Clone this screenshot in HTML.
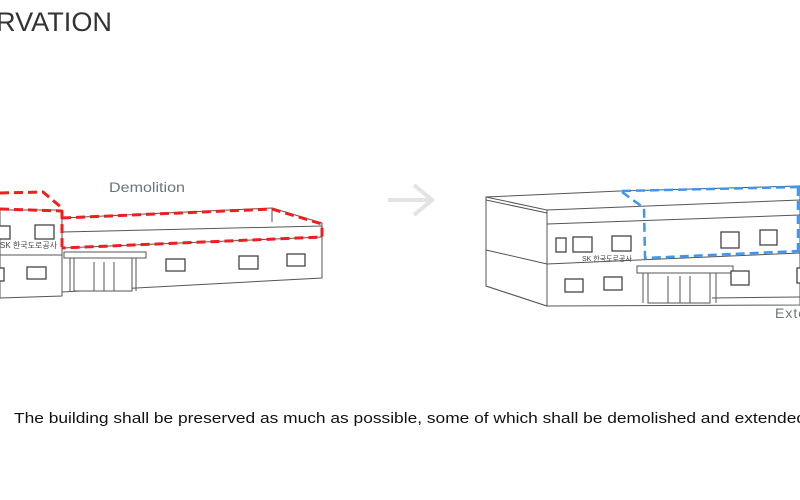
<!DOCTYPE html>
<html><head><meta charset="utf-8"><style>
body{margin:0;background:#fff;}
svg{display:block}
text{font-family:"Liberation Sans","Noto Sans CJK KR",sans-serif;}
</style></head><body>
<svg width="800" height="500" viewBox="0 0 800 500" xmlns="http://www.w3.org/2000/svg">
<text x="-4" y="31" font-size="27" fill="#333" textLength="116" lengthAdjust="spacingAndGlyphs">RVATION</text>
<text x="109" y="192" font-size="14" fill="#6b757c" textLength="76" lengthAdjust="spacingAndGlyphs">Demolition</text>
<text x="775" y="318" font-size="14" fill="#6b757c" letter-spacing="1">Exte</text>
<text x="14" y="423" font-size="15" fill="#111" textLength="792" lengthAdjust="spacingAndGlyphs">The building shall be preserved as much as possible, some of which shall be demolished and extended</text>
<!-- arrow -->
<g stroke="#e3e3e3" stroke-width="4" fill="none"><line x1="388" y1="200" x2="432" y2="200"/><polyline points="414,185 432,200 414,215"/></g>

<!-- LEFT BUILDING -->
<g stroke="#555" stroke-width="1" fill="#fff">
<polygon points="0,210 62,210 62,296 0,298"/>
<line x1="0" y1="255" x2="62" y2="255"/>
<polygon points="62,218 272,208 322,223 322,278 62,292"/>
<line x1="62" y1="232" x2="322" y2="226"/>
<line x1="62" y1="248" x2="322" y2="237"/>
<line x1="272" y1="208" x2="272" y2="222"/>
<rect x="64" y="252" width="82" height="6"/>
<rect x="74" y="258" width="58" height="33"/>
<line x1="94" y1="262" x2="94" y2="291"/><line x1="104" y1="262" x2="104" y2="291"/><line x1="114" y1="262" x2="114" y2="291"/>
<line x1="70" y1="258" x2="70" y2="291"/><line x1="136" y1="258" x2="136" y2="291"/>
</g>
<g fill="#fff" stroke="#444" stroke-width="1.3">
<rect x="-2" y="226" width="12" height="13"/><rect x="35" y="225" width="19" height="14"/>
<rect x="-2" y="268" width="6" height="13"/><rect x="27" y="267" width="19" height="12"/>
<rect x="166" y="259" width="19" height="12"/><rect x="239" y="256" width="19" height="13"/><rect x="287" y="254" width="18" height="12"/>
</g>
<text x="0" y="248" font-size="8" fill="#444">SK 한국도로공사</text>
<g stroke="#f01e1e" stroke-width="3" fill="none" stroke-dasharray="9,5">
<polyline points="0,193 43,192 62,208 62,247"/>
<line x1="0" y1="209" x2="62" y2="211"/>
<polyline points="62,218 272,209 322,224 322,237 62,248"/>
</g>

<!-- RIGHT BUILDING -->
<g stroke="#555" stroke-width="1" fill="#fff">
<polygon points="486,197 620,191 800,186 800,305 547,306 486,286"/>
<polygon points="486,197 547,210 547,306 486,286"/>
<line x1="547" y1="210" x2="800" y2="200"/>
<line x1="486" y1="200" x2="547" y2="213"/>
<line x1="547" y1="224" x2="800" y2="215"/>
<line x1="486" y1="250" x2="547" y2="264"/>
<line x1="547" y1="264" x2="800" y2="253"/>
<line x1="712" y1="298" x2="800" y2="297"/>
<rect x="637" y="266" width="96" height="7"/>
<rect x="648" y="273" width="62" height="30"/>
<line x1="668" y1="276" x2="668" y2="303"/><line x1="680" y1="276" x2="680" y2="303"/><line x1="690" y1="276" x2="690" y2="303"/>
<line x1="643" y1="273" x2="643" y2="303"/><line x1="716" y1="273" x2="716" y2="303"/>
</g>
<g fill="#fff" stroke="#444" stroke-width="1.3">
<rect x="556" y="238" width="10" height="14"/><rect x="573" y="237" width="19" height="15"/><rect x="612" y="236" width="19" height="15"/>
<rect x="721" y="232" width="18" height="16"/><rect x="760" y="230" width="17" height="15"/>
<rect x="565" y="279" width="18" height="13"/><rect x="604" y="277" width="18" height="13"/><rect x="731" y="271" width="18" height="14"/><rect x="797" y="268" width="6" height="15"/>
</g>
<text x="582" y="261" font-size="7" fill="#444">SK 한국도로공사</text>
<g stroke="#3d96f0" stroke-width="2.5" fill="none" stroke-dasharray="9,5">
<polyline points="622,192 644,208 645,258 800,251"/>
<line x1="622" y1="191" x2="800" y2="187"/>
<line x1="798" y1="187" x2="798" y2="252"/>
</g>
</svg>
</body></html>
